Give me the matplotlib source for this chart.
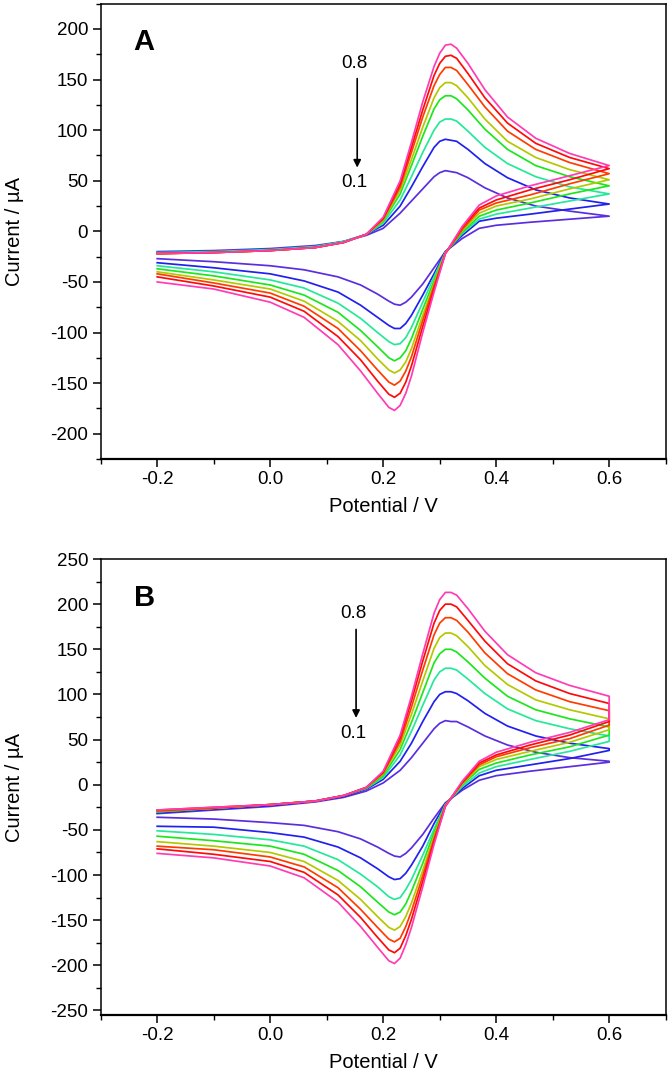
import matplotlib
matplotlib.use('Agg')
import matplotlib.pyplot as plt
from matplotlib.ticker import FixedLocator, MultipleLocator

plt.rcParams['font.family'] = ['Liberation Sans', 'DejaVu Sans']

# ---------------- data ----------------
scan_rates = [0.1, 0.2, 0.3, 0.4, 0.5, 0.6, 0.7, 0.8]
line_colors = ['#5a2ee0', '#2020f0', '#25e89a', '#1ee61e', '#b4c800', '#ff3c00', '#ff0a0a', '#ff3cb4']

E_fwd = [-0.20, -0.10, 0.00, 0.08, 0.13, 0.17, 0.20, 0.23, 0.25, 0.27, 0.29,
         0.30, 0.31, 0.32, 0.33, 0.35, 0.38, 0.42, 0.47, 0.53, 0.60]
E_rev = [0.60, 0.53, 0.46, 0.40, 0.37, 0.34, 0.31, 0.29, 0.27, 0.25, 0.24,
         0.23, 0.22, 0.21, 0.19, 0.16, 0.12, 0.06, 0.00, -0.10, -0.20]

# Panel A
a_fwd_01 = [-20, -19, -17, -14, -10, -4, 3, 18, 30, 42, 54, 58, 60, 59, 58, 53, 43, 33, 25, 20, 15]
a_fwd_02 = [-21, -20, -18, -15, -10, -3, 6, 25, 44, 64, 83, 89, 91, 90, 89, 81, 67, 53, 41, 33, 27]
a_fwd_03 = [-21, -20, -18, -15, -10, -3, 8, 31, 54, 78, 100, 108, 111, 111, 109, 99, 83, 67, 54, 44, 37]
a_fwd_04 = [-22, -21, -19, -16, -11, -3, 10, 37, 65, 94, 121, 130, 134, 134, 131, 120, 101, 81, 65, 54, 45]
a_fwd_05 = [-22, -21, -19, -16, -11, -3, 11, 41, 71, 103, 132, 142, 147, 147, 144, 132, 111, 89, 73, 61, 51]
a_fwd_06 = [-22, -21, -19, -16, -11, -3, 12, 44, 78, 113, 144, 155, 162, 162, 159, 145, 123, 99, 81, 68, 57]
a_fwd_07 = [-22, -21, -19, -16, -11, -3, 13, 47, 83, 120, 154, 166, 173, 174, 171, 156, 132, 107, 87, 73, 62]
a_fwd_08 = [-22, -21, -19, -16, -11, -3, 14, 50, 88, 128, 163, 176, 184, 185, 181, 166, 140, 113, 92, 77, 65]

a_rev_01 = [15, 12, 9, 6, 3, -7, -20, -36, -52, -65, -70, -73, -72, -69, -62, -53, -45, -38, -34, -30, -27]
a_rev_02 = [27, 22, 17, 13, 10, -4, -20, -42, -63, -83, -91, -96, -96, -93, -85, -73, -60, -49, -42, -36, -31]
a_rev_03 = [37, 30, 23, 17, 12, -2, -21, -45, -70, -95, -105, -111, -112, -109, -100, -86, -71, -56, -48, -40, -34]
a_rev_04 = [45, 37, 28, 21, 15, -1, -21, -49, -77, -106, -118, -125, -128, -125, -114, -98, -80, -63, -53, -44, -37]
a_rev_05 = [51, 42, 32, 25, 18, 1, -21, -52, -83, -116, -129, -137, -140, -137, -126, -108, -89, -69, -57, -48, -40]
a_rev_06 = [57, 47, 36, 28, 21, 2, -22, -54, -88, -124, -138, -148, -152, -149, -137, -118, -96, -74, -61, -51, -42]
a_rev_07 = [62, 51, 41, 31, 23, 4, -22, -57, -94, -133, -149, -160, -164, -161, -148, -127, -104, -79, -65, -54, -45]
a_rev_08 = [65, 55, 45, 35, 26, 5, -22, -60, -100, -143, -160, -172, -177, -174, -160, -138, -112, -85, -70, -57, -50]

# Panel B
b_fwd_01 = [-32, -28, -24, -19, -14, -7, 2, 16, 30, 46, 62, 68, 71, 70, 70, 64, 54, 44, 36, 30, 26]
b_fwd_02 = [-31, -27, -23, -18, -13, -5, 6, 26, 46, 70, 92, 100, 103, 103, 101, 93, 79, 65, 54, 46, 40]
b_fwd_03 = [-30, -26, -22, -18, -12, -4, 8, 33, 59, 88, 116, 125, 129, 129, 127, 117, 101, 84, 71, 62, 54]
b_fwd_04 = [-30, -26, -22, -18, -12, -4, 10, 39, 69, 102, 135, 145, 150, 150, 147, 136, 118, 98, 83, 73, 64]
b_fwd_05 = [-29, -26, -22, -18, -12, -3, 12, 44, 78, 115, 151, 163, 168, 168, 165, 153, 132, 111, 94, 83, 73]
b_fwd_06 = [-29, -26, -22, -18, -12, -3, 13, 48, 86, 127, 166, 179, 185, 185, 182, 169, 146, 123, 105, 92, 82]
b_fwd_07 = [-28, -25, -22, -18, -12, -3, 14, 52, 93, 137, 179, 193, 200, 200, 197, 182, 159, 134, 115, 101, 90]
b_fwd_08 = [-28, -25, -22, -18, -12, -3, 15, 55, 98, 145, 190, 205, 213, 213, 210, 195, 170, 144, 124, 110, 98]

b_rev_01 = [25, 20, 15, 10, 5, -6, -20, -37, -55, -70, -76, -80, -79, -76, -69, -60, -52, -45, -42, -38, -36]
b_rev_02 = [38, 29, 22, 16, 10, -4, -21, -43, -68, -89, -98, -104, -105, -102, -93, -81, -69, -58, -53, -47, -46]
b_rev_03 = [48, 37, 28, 20, 13, -2, -22, -49, -78, -105, -116, -125, -127, -124, -113, -99, -83, -68, -61, -55, -51]
b_rev_04 = [55, 42, 33, 24, 17, 0, -22, -53, -87, -118, -132, -141, -144, -141, -130, -113, -95, -77, -68, -62, -57]
b_rev_05 = [61, 47, 37, 28, 20, 1, -23, -57, -95, -131, -146, -157, -161, -158, -146, -127, -106, -85, -75, -68, -63]
b_rev_06 = [66, 51, 41, 31, 22, 2, -23, -60, -101, -140, -157, -170, -174, -171, -158, -138, -114, -91, -80, -72, -68]
b_rev_07 = [70, 55, 44, 33, 24, 3, -24, -63, -107, -149, -167, -181, -186, -183, -169, -147, -122, -97, -85, -77, -71]
b_rev_08 = [72, 58, 47, 36, 26, 4, -24, -66, -113, -158, -177, -192, -198, -195, -180, -157, -130, -103, -90, -81, -76]

a_fwd = [a_fwd_01, a_fwd_02, a_fwd_03, a_fwd_04, a_fwd_05, a_fwd_06, a_fwd_07, a_fwd_08]
a_rev = [a_rev_01, a_rev_02, a_rev_03, a_rev_04, a_rev_05, a_rev_06, a_rev_07, a_rev_08]
b_fwd = [b_fwd_01, b_fwd_02, b_fwd_03, b_fwd_04, b_fwd_05, b_fwd_06, b_fwd_07, b_fwd_08]
b_rev = [b_rev_01, b_rev_02, b_rev_03, b_rev_04, b_rev_05, b_rev_06, b_rev_07, b_rev_08]

x_major = [-0.2, 0.0, 0.2, 0.4, 0.6]
x_major_labels = ['-0.2', '0.0', '0.2', '0.4', '0.6']
a_y_major = [-200, -150, -100, -50, 0, 50, 100, 150, 200]
b_y_major = [-250, -200, -150, -100, -50, 0, 50, 100, 150, 200, 250]

# ---------------- figure ----------------
W, H = 670, 1087
fig = plt.figure(figsize=(W / 100, H / 100), dpi=100)

def px_axes(l, t, r, b):
    return fig.add_axes([l / W, 1 - b / H, (r - l) / W, (b - t) / H])

axA = px_axes(100.7, 3.7, 665.7, 459)
axB = px_axes(100.7, 559, 665.7, 1015)

TICK_FS = 13.5
LABEL_FS = 14.5

def style(ax, ylim, ymaj):
    ax.set_xlim(-0.3, 0.7)
    ax.set_ylim(*ylim)
    ax.xaxis.set_major_locator(FixedLocator(x_major))
    ax.set_xticklabels(x_major_labels)
    ax.xaxis.set_minor_locator(MultipleLocator(0.1))
    ax.yaxis.set_major_locator(FixedLocator(ymaj))
    ax.set_yticklabels([str(v) for v in ymaj])
    ax.yaxis.set_minor_locator(MultipleLocator(25))
    ax.tick_params(axis='both', which='major', direction='out', length=6,
                   width=1.1, labelsize=TICK_FS, pad=3)
    ax.tick_params(axis='both', which='minor', direction='out', length=3.5, width=1.0)
    ax.tick_params(top=False, right=False)
    for s in ['left', 'top', 'right']:
        ax.spines[s].set_linewidth(1.1)
    ax.spines['bottom'].set_linewidth(1.6)
    ax.set_xlabel('Potential / V', fontsize=LABEL_FS, labelpad=6)
    ax.set_ylabel('Current / µA', fontsize=LABEL_FS)
    ax.yaxis.set_label_coords(-0.135, 0.5)

def draw(ax, fwd, rev):
    for f, r, c in zip(fwd, rev, line_colors):
        ax.plot(E_fwd + E_rev, f + r, color=c, lw=1.25, solid_joinstyle='round')

draw(axA, a_fwd, a_rev)
draw(axB, b_fwd, b_rev)
style(axA, (-225, 225), a_y_major)
style(axB, (-255, 250), b_y_major)

# panel letters and scan-rate annotation
axA.text(-0.223, 187, 'A', fontsize=21, fontweight='bold', ha='center', va='center')
axB.text(-0.223, 207, 'B', fontsize=21, fontweight='bold', ha='center', va='center')

def rate_note(ax, x, y_top, y_bot, a_top, a_bot):
    ax.text(x, y_top, '0.8', fontsize=TICK_FS, ha='center', va='center')
    ax.text(x, y_bot, '0.1', fontsize=TICK_FS, ha='center', va='center')
    ax.annotate('', xy=(x + 0.005, a_bot), xytext=(x + 0.005, a_top),
                arrowprops=dict(arrowstyle='-|>', color='black', lw=1.2,
                                mutation_scale=11, shrinkA=0, shrinkB=0))

rate_note(axA, 0.149, 166, 48, 151, 63)
rate_note(axB, 0.147, 190, 57, 172, 74)

fig.savefig('out.png', dpi=100)
